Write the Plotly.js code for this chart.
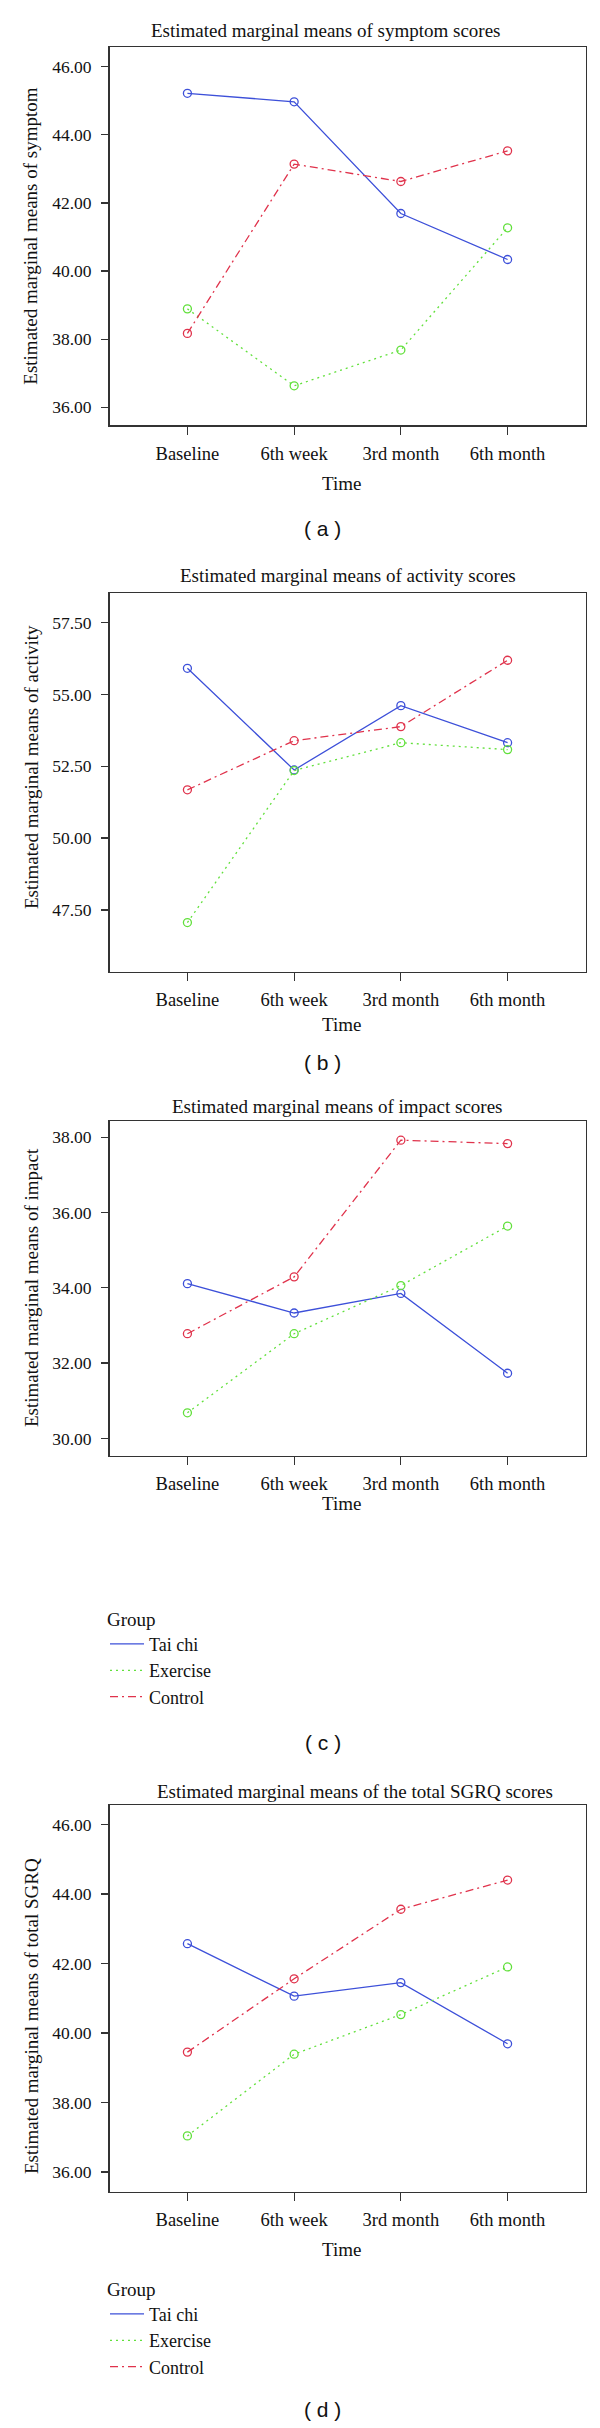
<!DOCTYPE html>
<html><head><meta charset="utf-8">
<script src="https://cdn.plot.ly/plotly-3.0.1.min.js"></script>
<style>html,body{margin:0;padding:0;background:#fff}</style>
</head><body><div id="chart" style="width:600px;height:2428px"></div>
<script>
// ---------------- data ----------------
const timePoints = ["Baseline", "6th week", "3rd month", "6th month"];
const groups = ["Tai chi", "Exercise", "Control"];

const symptomTaiChi   = [45.22, 44.97, 41.69, 40.34];
const symptomExercise = [38.89, 36.63, 37.68, 41.27];
const symptomControl  = [38.17, 43.14, 42.63, 43.53];

const activityTaiChi   = [55.91, 52.37, 54.61, 53.32];
const activityExercise = [47.06, 52.35, 53.32, 53.08];
const activityControl  = [51.68, 53.39, 53.88, 56.19];

const impactTaiChi   = [34.11, 33.33, 33.85, 31.73];
const impactExercise = [30.68, 32.78, 34.06, 35.64];
const impactControl  = [32.78, 34.29, 37.92, 37.83];

const totalTaiChi   = [42.57, 41.06, 41.45, 39.69];
const totalExercise = [37.04, 39.39, 40.53, 41.90];
const totalControl  = [39.45, 41.56, 43.56, 44.40];

const panelTitles = [
  "Estimated marginal means of symptom scores",
  "Estimated marginal means of activity scores",
  "Estimated marginal means of impact scores",
  "Estimated marginal means of the total SGRQ scores"
];
const yTitles = [
  "Estimated marginal means of symptom",
  "Estimated marginal means of activity",
  "Estimated marginal means of impact",
  "Estimated marginal means of total SGRQ"
];
const xTitle = "Time";
const legendTitle = "Group";
const panelLabels = ["( a )", "( b )", "( c )", "( d )"];
const yTickVals = [
  [36, 38, 40, 42, 44, 46],
  [47.5, 50, 52.5, 55, 57.5],
  [30, 32, 34, 36, 38],
  [36, 38, 40, 42, 44, 46]
];

// ---------------- layout helpers ----------------
const W = 600, H = 2428;
const px = v => v / W;
const py = v => 1 - v / H;
const SERIF = "Liberation Serif, Times New Roman, serif";
const SANS = "Liberation Sans, Arial, sans-serif";

const seriesByPanel = [
  [symptomTaiChi, symptomExercise, symptomControl],
  [activityTaiChi, activityExercise, activityControl],
  [impactTaiChi, impactExercise, impactControl],
  [totalTaiChi, totalExercise, totalControl]
];
const styles = [
  {color: "#3d50d9", dash: "solid"},
  {color: "#62e03c", dash: "2px,4px"},
  {color: "#e0334c", dash: "8px,4px,2px,4px"}
];
const geom = [
  {top: 47.3,  bottom: 425,    yr: [35.48, 46.57], title: 30.7,  titleX: 326, time: 483.3,  label: 528},
  {top: 593.3, bottom: 971.7,  yr: [45.35, 58.52], title: 576,   titleX: 348, time: 1024,   label: 1062.5},
  {top: 1121,  bottom: 1455.7, yr: [29.54, 38.43], title: 1106,  titleX: 337, time: 1503.3, label: 1742.5},
  {top: 1805,  bottom: 2191.5, yr: [35.44, 46.56], title: 1791,  titleX: 355, time: 2249,   label: 2409}
];
const yTitleCenters = [236.7, 767, 1288, 2016];

const traces = [];
const layout = {
  width: W, height: H,
  margin: {l: 0, r: 0, t: 0, b: 0},
  paper_bgcolor: "#fff", plot_bgcolor: "#fff",
  font: {family: SERIF, size: 18, color: "#111"},
  showlegend: true,
  annotations: []
};

geom.forEach((g, i) => {
  const n = i === 0 ? "" : String(i + 1);
  const xa = "x" + n, ya = "y" + n;
  seriesByPanel[i].forEach((vals, k) => {
    traces.push({
      type: "scatter", mode: "lines+markers",
      x: timePoints, y: vals, name: groups[k],
      xaxis: xa, yaxis: ya, showlegend: false, hoverinfo: "skip",
      line: {color: styles[k].color, dash: styles[k].dash, width: 1.3},
      marker: {symbol: "circle-open", size: 8, color: styles[k].color, line: {width: 1.3, color: styles[k].color}}
    });
  });
  layout["xaxis" + n] = {
    type: "category", anchor: ya, domain: [px(109.5), px(585.5)],
    range: [-0.73, 3.73], categoryarray: timePoints, categoryorder: "array",
    showline: true, mirror: true, linecolor: "#333", linewidth: 1.5,
    ticks: "outside", ticklen: 8, tickwidth: 1.2, tickcolor: "#333",
    ticklabelstandoff: 3,
    showgrid: false, zeroline: false, fixedrange: true,
    tickfont: {family: SERIF, size: 18.5, color: "#111"}
  };
  layout["yaxis" + n] = {
    anchor: xa, domain: [py(g.bottom), py(g.top)], range: g.yr,
    tickvals: yTickVals[i], tickformat: ".2f",
    showline: true, mirror: true, linecolor: "#333", linewidth: 1.5,
    ticks: "outside", ticklen: 7, tickwidth: 1.2, tickcolor: "#333",
    ticklabelstandoff: 6,
    showgrid: false, zeroline: false, fixedrange: true,
    tickfont: {family: SERIF, size: 17.5, color: "#111"}
  };
  layout.annotations.push(
    {text: panelTitles[i], xref: "paper", yref: "paper", x: px(g.titleX), y: py(g.title),
     xanchor: "center", yanchor: "middle", showarrow: false, font: {family: SERIF, size: 19, color: "#111"}},
    {text: yTitles[i], xref: "paper", yref: "paper", x: px(31), y: py(yTitleCenters[i]), textangle: -90,
     xanchor: "center", yanchor: "middle", showarrow: false, font: {family: SERIF, size: 19, color: "#111"}},
    {text: xTitle, xref: "paper", yref: "paper", x: px(341), y: py(g.time),
     xanchor: "center", yanchor: "middle", showarrow: false, font: {family: SERIF, size: 19, color: "#111"}},
    {text: panelLabels[i], xref: "paper", yref: "paper", x: px(322.5), y: py(g.label),
     xanchor: "center", yanchor: "middle", showarrow: false, font: {family: SANS, size: 21, color: "#111"}}
  );
});

// legend-only traces for panels (c) and (d)
[["legend", "x3", "y3"], ["legend2", "x4", "y4"]].forEach(([lg, xa, ya]) => {
  groups.forEach((name, k) => {
    traces.push({
      type: "scatter", mode: "lines", x: [null], y: [null], name: name,
      xaxis: xa, yaxis: ya, legend: lg, showlegend: true, hoverinfo: "skip",
      line: {color: styles[k].color, dash: styles[k].dash, width: 1.3}
    });
  });
});
const legendBase = {
  xref: "paper", yref: "paper", xanchor: "left", yanchor: "top",
  bgcolor: "rgba(0,0,0,0)", borderwidth: 0, itemwidth: 34, tracegroupgap: 0,
  font: {family: SERIF, size: 18, color: "#111"},
  title: {text: legendTitle, font: {family: SERIF, size: 19, color: "#111"}}
};
layout.legend = Object.assign({}, legendBase, {x: px(105), y: py(1601)});
layout.legend2 = Object.assign({}, legendBase, {x: px(105), y: py(2271)});

Plotly.newPlot("chart", traces, layout, {staticPlot: true, displayModeBar: false});
</script>
</body></html>
